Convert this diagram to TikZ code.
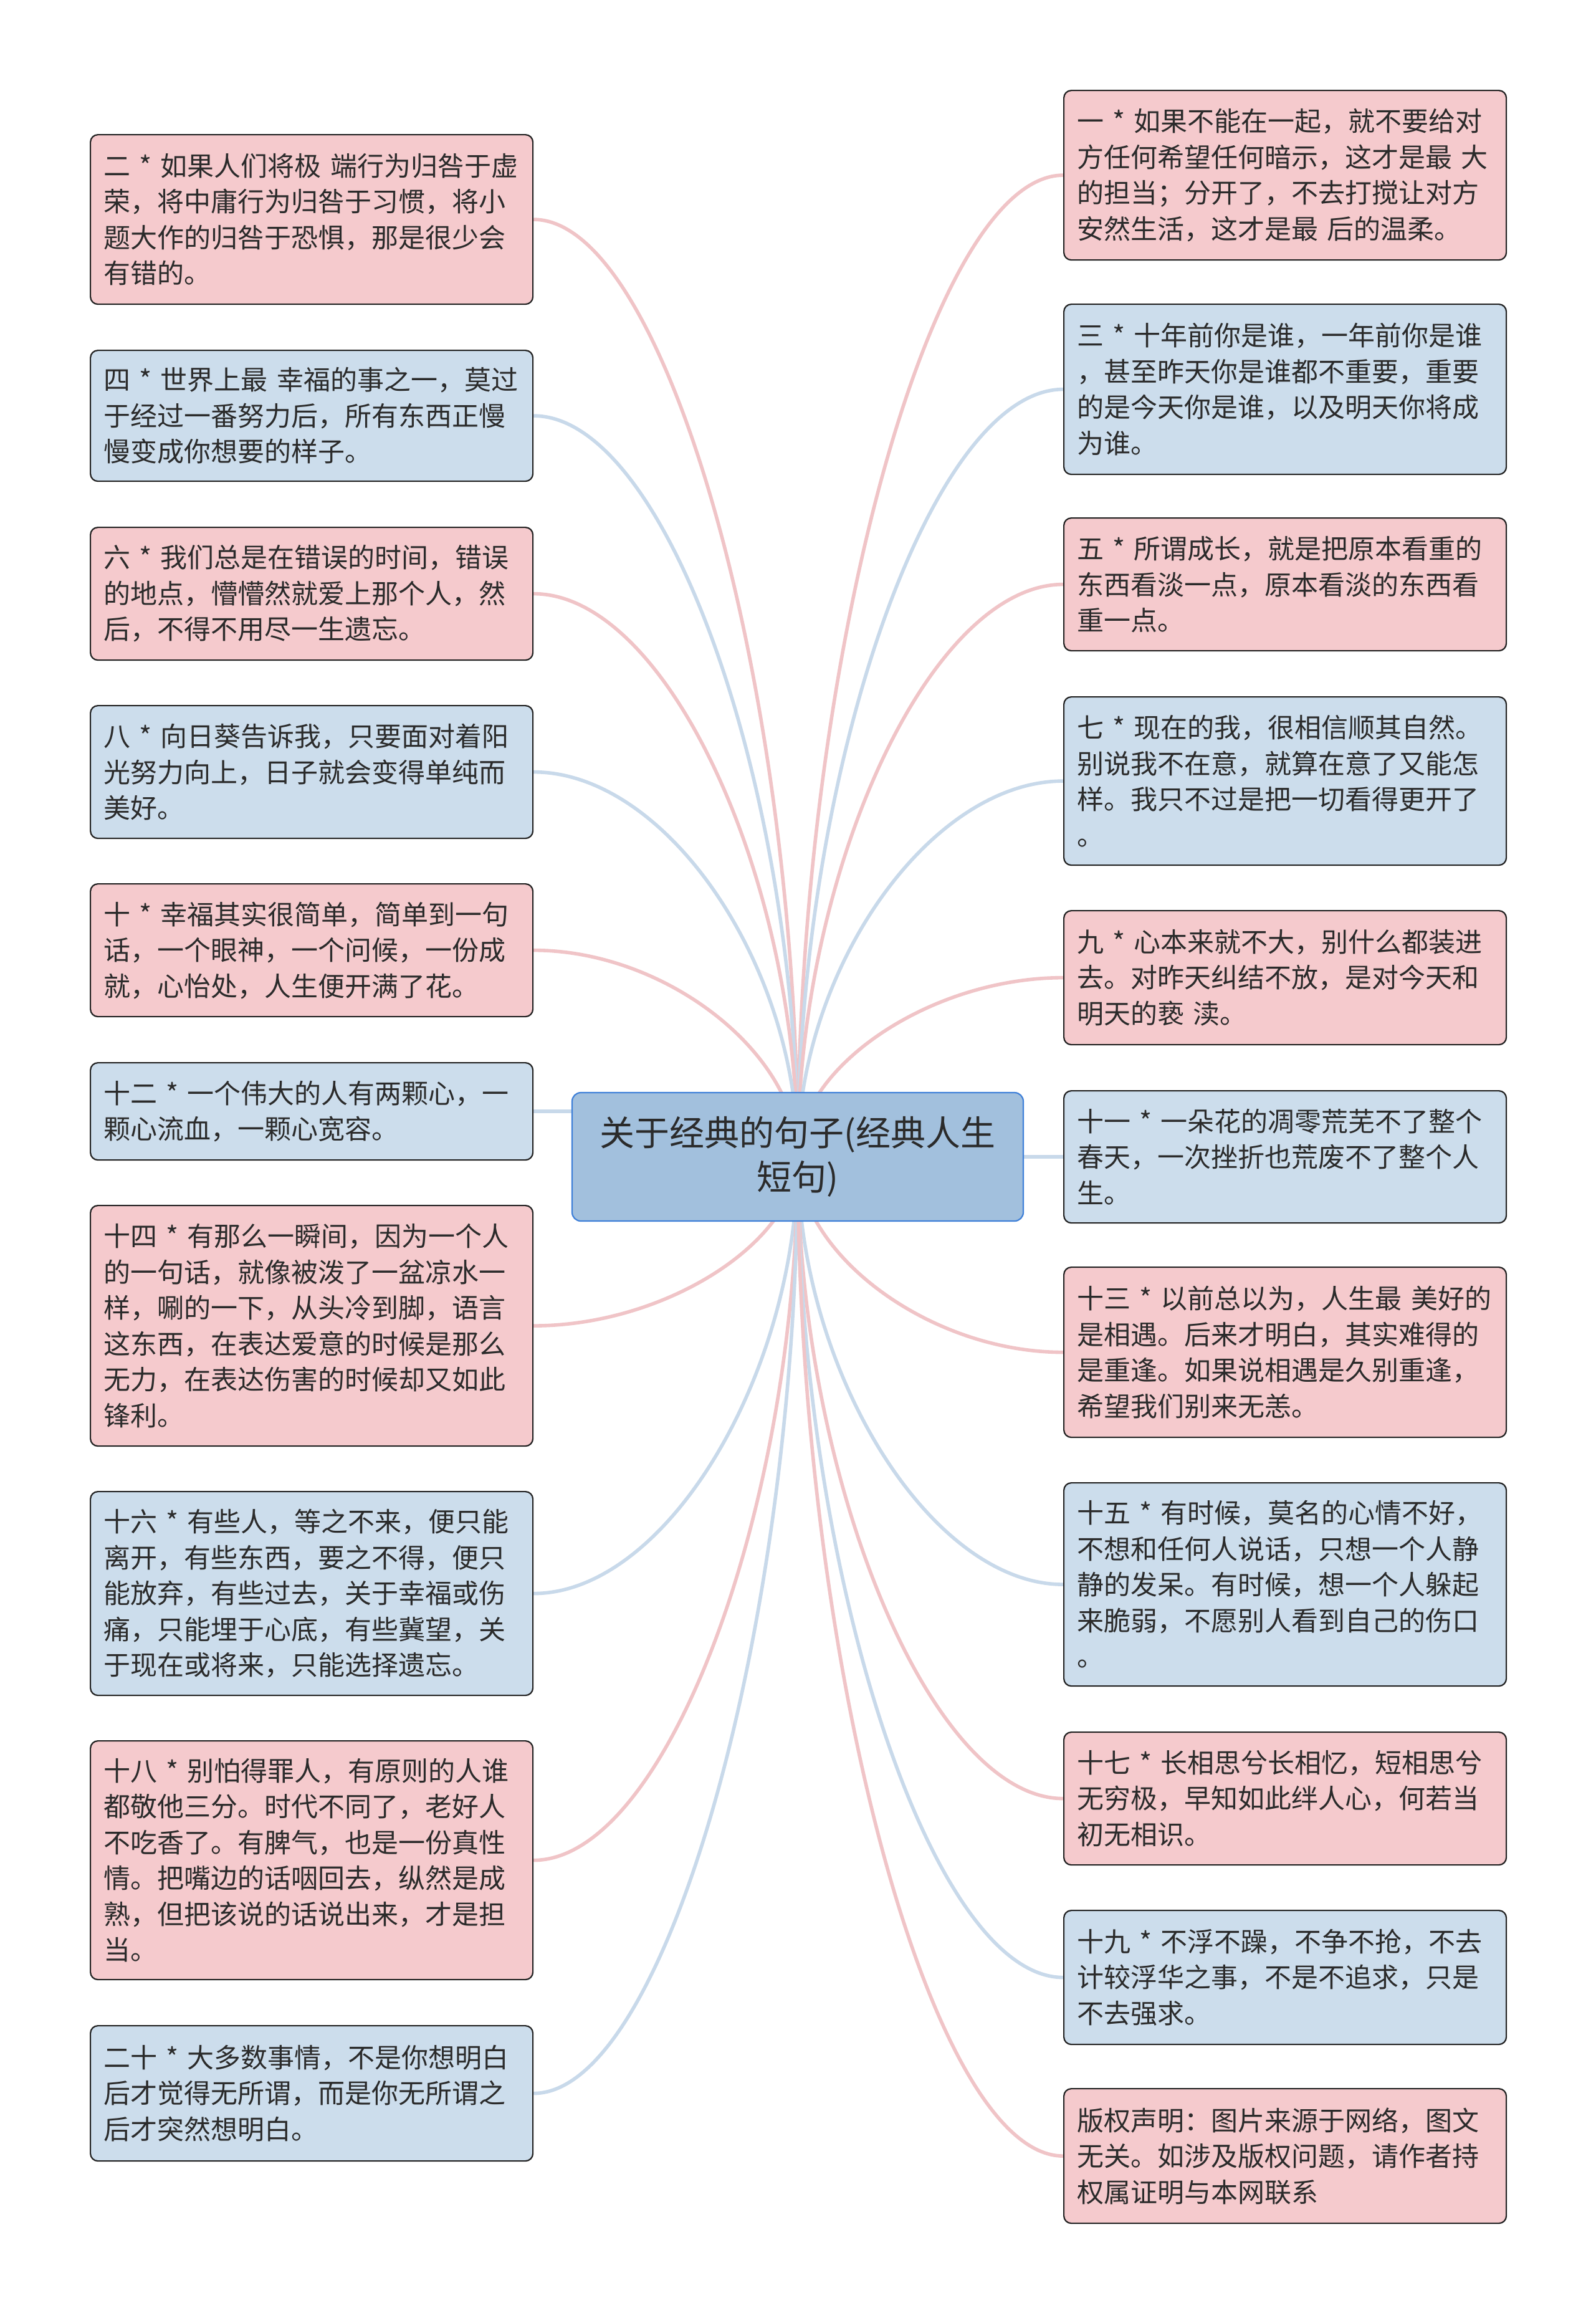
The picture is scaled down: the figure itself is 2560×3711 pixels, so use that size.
\documentclass[tikz,border=0pt]{standalone}
\usepackage{fontspec}
\newfontfamily\cjk{Noto Sans CJK SC}
\usetikzlibrary{calc}
\pgfdeclarelayer{back}
\pgfdeclarelayer{bg}
\pgfsetlayers{back,bg,main}
\definecolor{pinkfill}{HTML}{F5CACD}
\definecolor{bluefill}{HTML}{CCDDEC}
\definecolor{centerfill}{HTML}{A2C0DD}
\definecolor{centerline}{HTML}{3F80D8}
\definecolor{boxline}{HTML}{222222}
\definecolor{txt}{HTML}{2B2B2B}
\definecolor{pinkline}{HTML}{F0C4C7}
\definecolor{blueline}{HTML}{C8D9EA}
\tikzset{
  qbox/.style={draw=boxline, line width=1.1pt, rounded corners=6pt, anchor=north west,
    minimum width=355pt, text width=334pt, inner xsep=10.5pt, inner ysep=0pt,
    align=left, text=txt, font=\cjk\fontsize{21.5pt}{28.75pt}\selectfont},
  pbox/.style={qbox, fill=pinkfill},
  bbox/.style={qbox, fill=bluefill},
  rootbox/.style={draw=centerline, line width=1.1pt, rounded corners=7pt, fill=centerfill,
    minimum width=362pt, minimum height=103pt, align=center, text=txt,
    font=\cjk\fontsize{28pt}{35.5pt}\selectfont},
  pline/.style={draw=pinkline, line width=2.8pt},
  bline/.style={draw=blueline, line width=2.8pt},
}
\newcommand\linkcurve[3]{\draw[#1] (#2) .. controls ($(#2)!0.5!(#2|-#3)$) and ($(#3)!0.5!(#2|-#3)$) .. (#3);}
\begin{document}
\begin{tikzpicture}[x=0.5pt,y=-0.5pt]
\begin{pgfonlayer}{back}
\fill[white] (0,0) rectangle (2560,3711);
\end{pgfonlayer}
\useasboundingbox (0,0) rectangle (2560,3711);

\node[rootbox] (c) at (1280,1856) {关于经典的句子(经典人生\\短句)};

% left column
\node[pbox, minimum height=136pt] (b2) at (144,215) {二~*~如果人们将极~端行为归咎于虚\\荣，将中庸行为归咎于习惯，将小\\题大作的归咎于恐惧，那是很少会\\有错的。};
\node[bbox, minimum height=105pt] (b4) at (144,561) {四~*~世界上最~幸福的事之一，莫过\\于经过一番努力后，所有东西正慢\\慢变成你想要的样子。};
\node[pbox, minimum height=106.5pt] (b6) at (144,845) {六~*~我们总是在错误的时间，错误\\的地点，懵懵然就爱上那个人，然\\后，不得不用尽一生遗忘。};
\node[bbox, minimum height=106.5pt] (b8) at (144,1131) {八~*~向日葵告诉我，只要面对着阳\\光努力向上，日子就会变得单纯而\\美好。};
\node[pbox, minimum height=106.5pt] (b10) at (144,1417) {十~*~幸福其实很简单，简单到一句\\话，一个眼神，一个问候，一份成\\就，心怡处，人生便开满了花。};
\node[bbox, minimum height=78pt] (b12) at (144,1704) {十二~*~一个伟大的人有两颗心，一\\颗心流血，一颗心宽容。};
\node[pbox, minimum height=193pt] (b14) at (144,1933) {十四~*~有那么一瞬间，因为一个人\\的一句话，就像被泼了一盆凉水一\\样，唰的一下，从头冷到脚，语言\\这东西，在表达爱意的时候是那么\\无力，在表达伤害的时候却又如此\\锋利。};
\node[bbox, minimum height=163.5pt] (b16) at (144,2392) {十六~*~有些人，等之不来，便只能\\离开，有些东西，要之不得，便只\\能放弃，有些过去，关于幸福或伤\\痛，只能埋于心底，有些冀望，关\\于现在或将来，只能选择遗忘。};
\node[pbox, minimum height=191.5pt] (b18) at (144,2792) {十八~*~别怕得罪人，有原则的人谁\\都敬他三分。时代不同了，老好人\\不吃香了。有脾气，也是一份真性\\情。把嘴边的话咽回去，纵然是成\\熟，但把该说的话说出来，才是担\\当。};
\node[bbox, minimum height=108.5pt] (b20) at (144,3249) {二十~*~大多数事情，不是你想明白\\后才觉得无所谓，而是你无所谓之\\后才突然想明白。};

% right column
\node[pbox, minimum height=136pt] (b1) at (1706,144) {一~*~如果不能在一起，就不要给对\\方任何希望任何暗示，这才是最~大\\的担当；分开了，不去打搅让对方\\安然生活，这才是最~后的温柔。};
\node[bbox, minimum height=136.5pt] (b3) at (1706,487) {三~*~十年前你是谁，一年前你是谁\\，甚至昨天你是谁都不重要，重要\\的是今天你是谁，以及明天你将成\\为谁。};
\node[pbox, minimum height=106.5pt] (b5) at (1706,830) {五~*~所谓成长，就是把原本看重的\\东西看淡一点，原本看淡的东西看\\重一点。};
\node[bbox, minimum height=135pt] (b7) at (1706,1117) {七~*~现在的我，很相信顺其自然。\\别说我不在意，就算在意了又能怎\\样。我只不过是把一切看得更开了\\。};
\node[pbox, minimum height=107.5pt] (b9) at (1706,1460) {九~*~心本来就不大，别什么都装进\\去。对昨天纠结不放，是对今天和\\明天的亵~渎。};
\node[bbox, minimum height=106pt] (b11) at (1706,1749) {十一~*~一朵花的凋零荒芜不了整个\\春天，一次挫折也荒废不了整个人\\生。};
\node[pbox, minimum height=136.5pt] (b13) at (1706,2032) {十三~*~以前总以为，人生最~美好的\\是相遇。后来才明白，其实难得的\\是重逢。如果说相遇是久别重逢，\\希望我们别来无恙。};
\node[bbox, minimum height=163pt] (b15) at (1706,2378) {十五~*~有时候，莫名的心情不好，\\不想和任何人说话，只想一个人静\\静的发呆。有时候，想一个人躲起\\来脆弱，不愿别人看到自己的伤口\\。};
\node[pbox, minimum height=106.5pt] (b17) at (1706,2778) {十七~*~长相思兮长相忆，短相思兮\\无穷极，早知如此绊人心，何若当\\初无相识。};
\node[bbox, minimum height=107.5pt] (b19) at (1706,3064) {十九~*~不浮不躁，不争不抢，不去\\计较浮华之事，不是不追求，只是\\不去强求。};
\node[pbox, minimum height=108pt] (b21) at (1706,3350) {版权声明：图片来源于网络，图文\\无关。如涉及版权问题，请作者持\\权属证明与本网联系};

\begin{pgfonlayer}{bg}
\linkcurve{pline}{c.center}{b2.east}
\linkcurve{bline}{c.center}{b4.east}
\linkcurve{pline}{c.center}{b6.east}
\linkcurve{bline}{c.center}{b8.east}
\linkcurve{pline}{c.center}{b10.east}
\draw[bline] (b12.east) -- (b12.east -| c.west);
\linkcurve{pline}{c.center}{b14.east}
\linkcurve{bline}{c.center}{b16.east}
\linkcurve{pline}{c.center}{b18.east}
\linkcurve{bline}{c.center}{b20.east}
\linkcurve{pline}{c.center}{b1.west}
\linkcurve{bline}{c.center}{b3.west}
\linkcurve{pline}{c.center}{b5.west}
\linkcurve{bline}{c.center}{b7.west}
\linkcurve{pline}{c.center}{b9.west}
\draw[bline] (b11.west) -- (b11.west -| c.east);
\linkcurve{pline}{c.center}{b13.west}
\linkcurve{bline}{c.center}{b15.west}
\linkcurve{pline}{c.center}{b17.west}
\linkcurve{bline}{c.center}{b19.west}
\linkcurve{pline}{c.center}{b21.west}
\end{pgfonlayer}
\end{tikzpicture}
\end{document}
